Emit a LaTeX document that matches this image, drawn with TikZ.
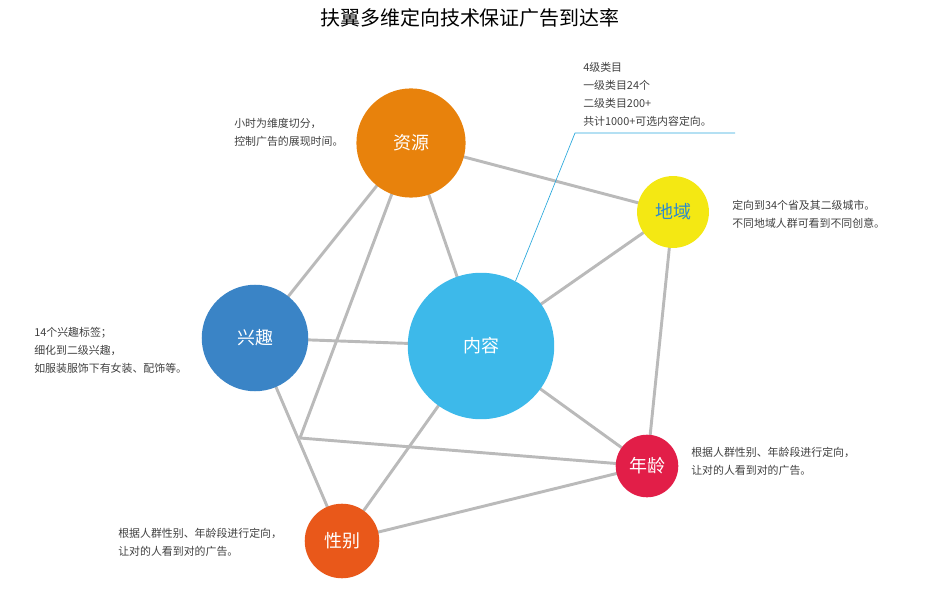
\documentclass[tikz,border=0pt]{standalone}
\usepackage{fontspec}
\setmainfont{Noto Sans CJK SC}
\definecolor{zyorange}{HTML}{E8820C}
\definecolor{dyyellow}{HTML}{F4E813}
\definecolor{dytext}{HTML}{2A8AD0}
\definecolor{xqblue}{HTML}{3A84C6}
\definecolor{nrcyan}{HTML}{3DB9EA}
\definecolor{nlred}{HTML}{E21E48}
\definecolor{xborange}{HTML}{E9581A}
\definecolor{pointer}{HTML}{2AA8DC}
\begin{document}
\begin{tikzpicture}[x=0.0264cm,y=-0.0264cm,
    ball/.style={circle,inner sep=0pt,text=white,font=\fontsize{13.5}{16}\selectfont},
    link/.style={draw=black!27,line width=2.2pt},
    note/.style={anchor=north west,align=left,inner sep=0pt,text=black!75,
                 font=\fontsize{8.2}{13.6}\selectfont}]

    \useasboundingbox (0,0) rectangle (933,590);

    \node (title) at (470,18) {\fontsize{15}{18}\selectfont 扶翼多维定向技术保证广告到达率};

    % junction of the grey net
    \coordinate (mid) at (300,438);

    % the links are drawn first, the balls sit over them
    \path (411,143) coordinate (p1) (673,212) coordinate (p2)
          (255,338) coordinate (p3) (481,346) coordinate (p4)
          (647,466) coordinate (p5) (342,541) coordinate (p6);
    \foreach \a/\b in {p1/p2,p1/p3,p1/p4,p1/mid,p2/p4,p2/p5,p3/p4,p3/p6,
                       mid/p5,p4/p5,p4/p6,p6/p5}
        \draw [link] (\a) -- (\b);

    \node [ball,fill=zyorange,minimum size=82pt] (ziyuan) at (p1) {资源};
    \node [ball,fill=dyyellow,text=dytext,minimum size=54pt] (diyu) at (p2) {地域};
    \node [ball,fill=xqblue,minimum size=80pt] (xingqu) at (p3) {兴趣};
    \node [ball,fill=nrcyan,minimum size=110pt] (neirong) at (p4) {内容};
    \node [ball,fill=nlred,minimum size=47pt] (nianling) at (p5) {年龄};
    \node [ball,fill=xborange,minimum size=56pt] (xingbie) at (p6) {性别};

    % pointer of the content note
    \coordinate (bend) at (575,133);
    \coordinate (tail) at (735,133);
    \draw [pointer,line width=0.5pt] (neirong.62) -- (bend) -- (tail);

    \node [note] (n1) at (583,62) {4级类目\\一级类目24个\\二级类目200+\\共计1000+可选内容定向。};
    \node [note] (n2) at (234,118) {小时为维度切分，\\控制广告的展现时间。};
    \node [note] (n3) at (732,200) {定向到34个省及其二级城市。\\不同地域人群可看到不同创意。};
    \node [note] (n4) at (34,327) {14个兴趣标签；\\细化到二级兴趣，\\如服装服饰下有女装、配饰等。};
    \node [note] (n5) at (691,447) {根据人群性别、年龄段进行定向，\\让对的人看到对的广告。};
    \node [note] (n6) at (118,528) {根据人群性别、年龄段进行定向，\\让对的人看到对的广告。};
\end{tikzpicture}
\end{document}
